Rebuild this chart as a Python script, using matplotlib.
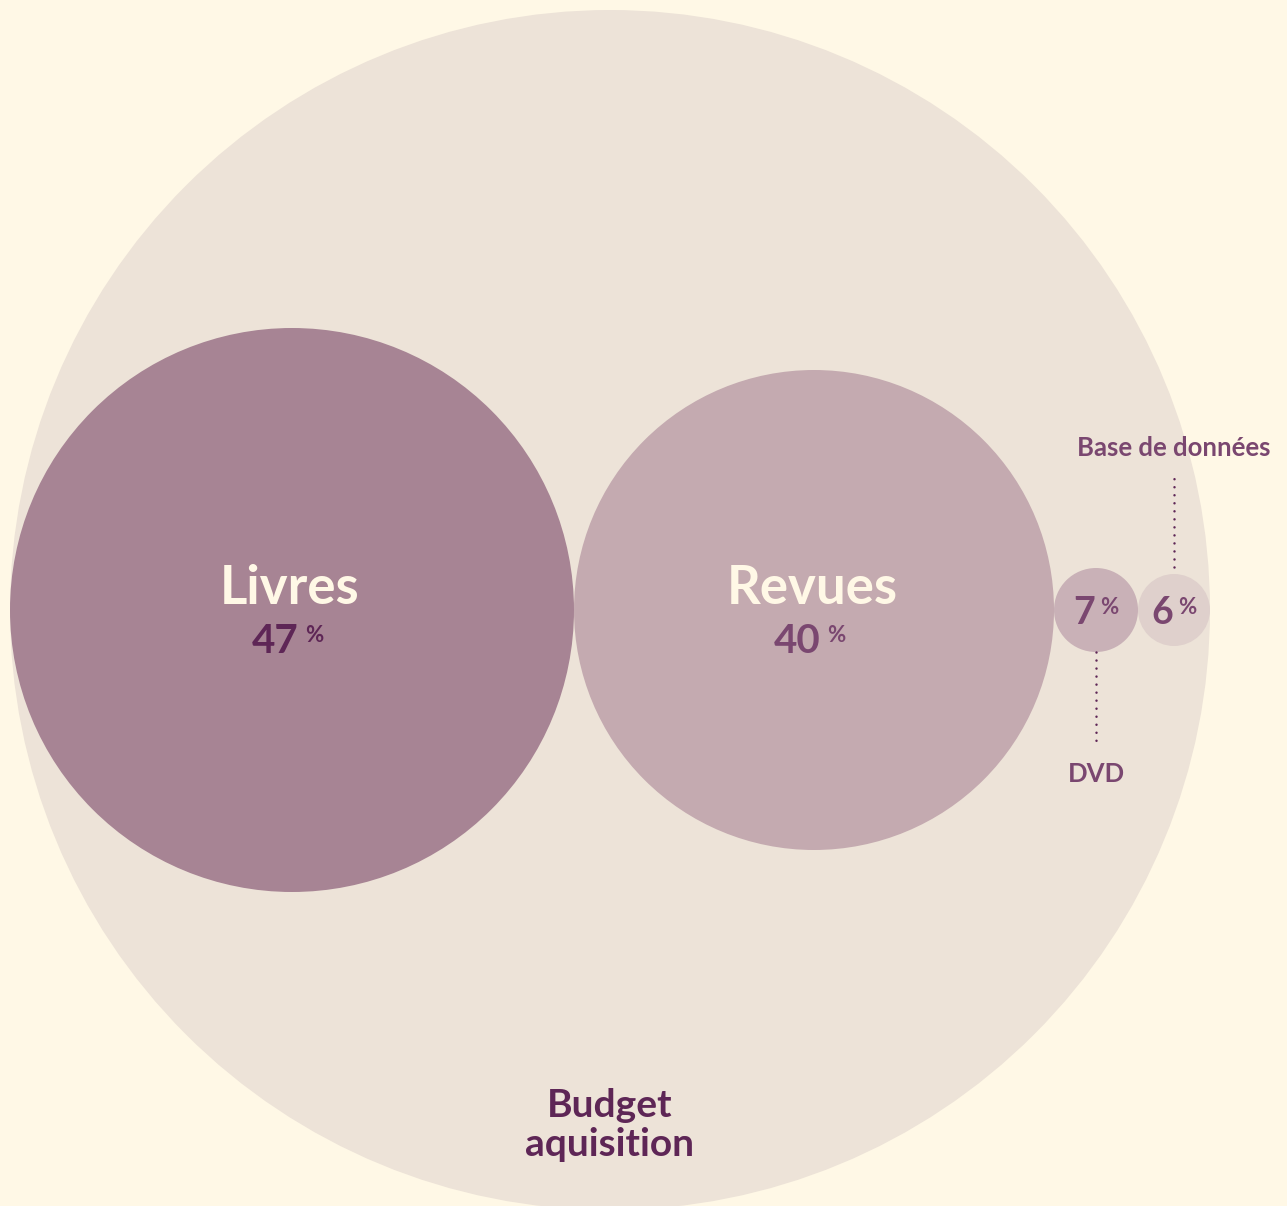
import matplotlib
matplotlib.use("Agg")
import matplotlib.pyplot as plt
from matplotlib.patches import Circle

# budget share per category (%)
categories = ['Livres', 'Revues', 'DVD', 'Base de données']
shares = [47, 40, 7, 6]
total = 100
total_label = ['Budget', 'aquisition']

bg = '#FFF8E6'
outer_col = '#EDE3D8'
fills = ['#A78494', '#C4AAB0', '#C9B1B7', '#DFD0CC']
dark = '#5E2656'
mid = '#7A4770'
cream = '#FFF8E6'

plt.rcParams['font.family'] = ['Lato', 'DejaVu Sans']

fig = plt.figure(figsize=(12.87, 12.06), dpi=100)
fig.patch.set_facecolor(bg)
ax = fig.add_axes([0, 0, 1, 1])
ax.set_xlim(0, 1287)
ax.set_ylim(1206, 0)
ax.set_aspect('equal')
ax.axis('off')

scale = 6  # px of radius per percent
left = 10
cy = 610

R = total * scale
ax.add_patch(Circle((left + R, cy), R, color=outer_col, lw=0, zorder=1))
ax.text(left + R, 1117, total_label[0], ha='center', va='baseline', fontsize=28,
        fontweight='bold', color=dark, zorder=5)
ax.text(left + R, 1156, total_label[1], ha='center', va='baseline', fontsize=28,
        fontweight='bold', color=dark, zorder=5)

x = left
centers = []
for cat, s, col in zip(categories, shares, fills):
    r = s * scale
    cx = x + r
    x = cx + r
    centers.append((cx, r))
    ax.add_patch(Circle((cx, cy), r, color=col, lw=0, zorder=2))

# big circles: name + percent inside
pct_cols = [dark, mid]
for i in range(2):
    cx, r = centers[i]
    ax.text(cx - 2, cy - 6, categories[i], ha='center', va='baseline', fontsize=38,
            fontweight='bold', color=cream, zorder=5)
    ax.text(cx + 7, cy + 43, str(shares[i]), ha='right', va='baseline', fontsize=29,
            fontweight='bold', color=pct_cols[i], zorder=5)
    ax.text(cx + 13, cy + 32, '%', ha='left', va='baseline', fontsize=16,
            fontweight='bold', color=pct_cols[i], zorder=5)

# small circles: percent inside, name outside with dotted leader
for i in range(2, 4):
    cx, r = centers[i]
    ax.text(cx - 1, cy + 14, str(shares[i]), ha='right', va='baseline', fontsize=27,
            fontweight='bold', color=mid, zorder=5)
    ax.text(cx + 4, cy + 4, '%', ha='left', va='baseline', fontsize=16,
            fontweight='bold', color=mid, zorder=5)

cx, r = centers[2]
ax.plot([cx, cx], [cy + r, cy + r + 90], color=dark, lw=1.8,
        linestyle=(0, (0.01, 3.2)), dash_capstyle='round', zorder=4)
ax.text(cx, cy + r + 130, categories[2], ha='center', va='baseline', fontsize=18.5,
        fontweight='bold', color=mid, zorder=5)

cx, r = centers[3]
ax.plot([cx, cx], [cy - r - 7, cy - r - 97], color=dark, lw=1.8,
        linestyle=(0, (0.01, 3.2)), dash_capstyle='round', zorder=4)
ax.text(cx, cy - r - 118, categories[3], ha='center', va='baseline', fontsize=18.5,
        fontweight='bold', color=mid, zorder=5)

fig.savefig('out.png', dpi=100, facecolor=bg)
